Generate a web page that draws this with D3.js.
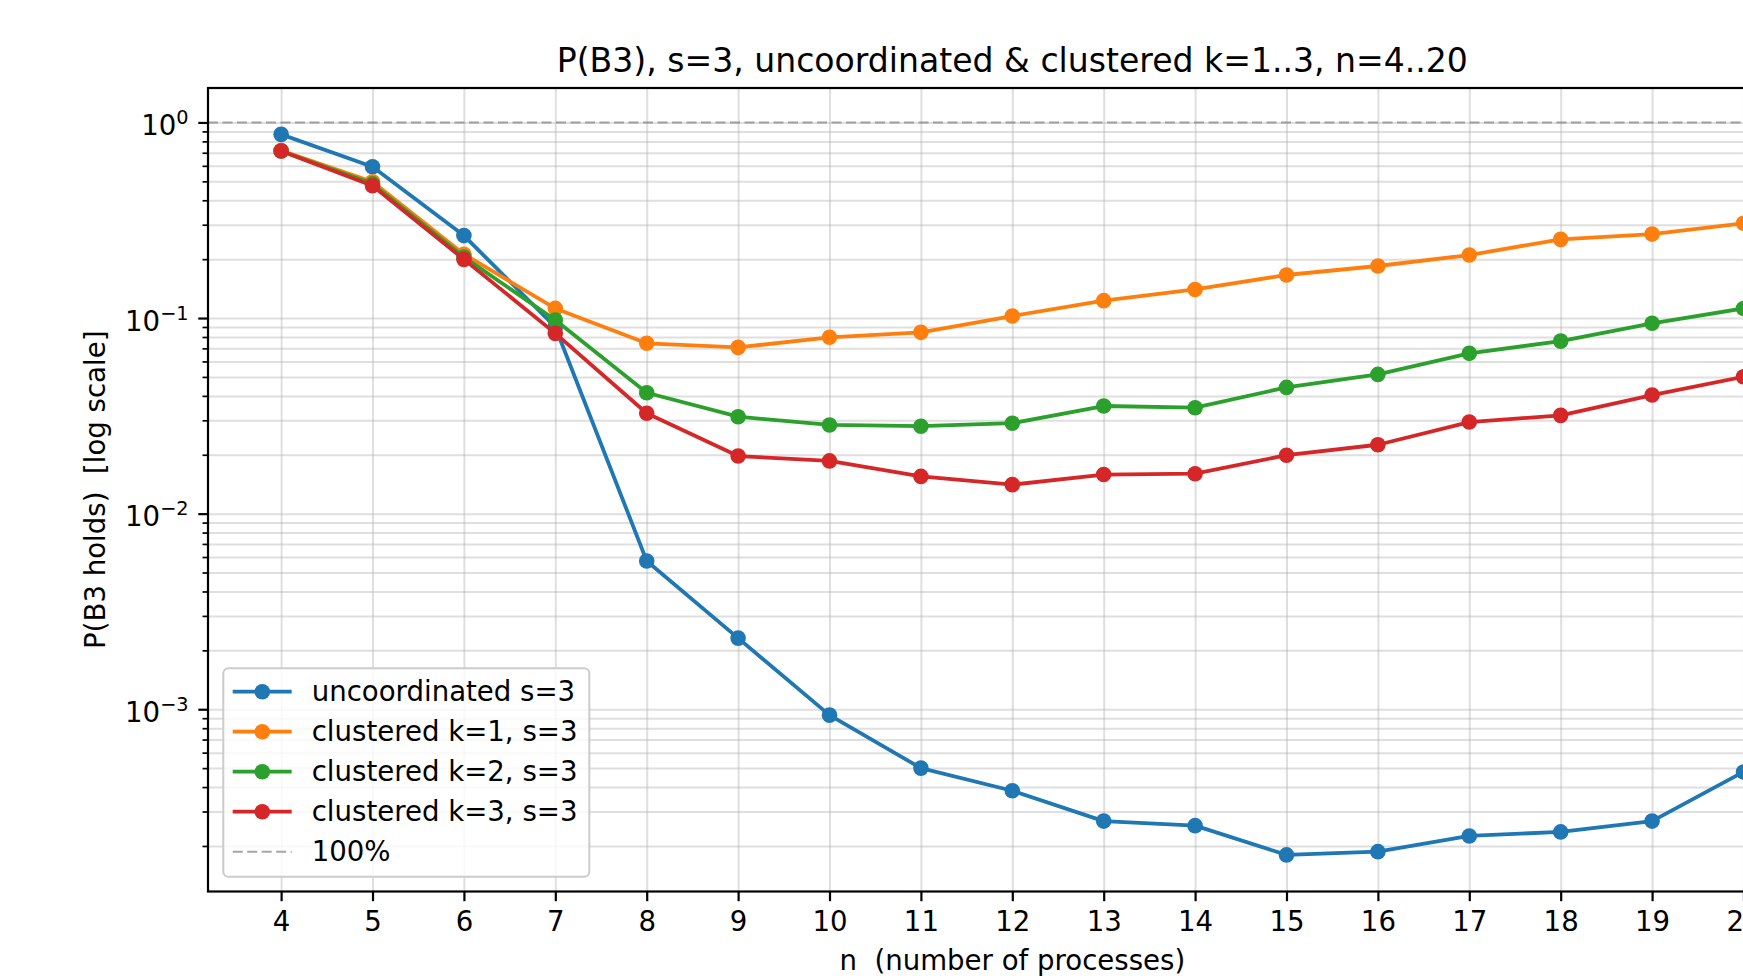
<!DOCTYPE html>
<html>
<head>
<meta charset="utf-8">
<script src="https://cdn.jsdelivr.net/npm/d3@7"></script>
<style>
  html, body { margin: 0; padding: 0; background: #fff; overflow: hidden; }
  svg { display: block; font-family: "DejaVu Sans", sans-serif; }
  svg text { white-space: pre; }
</style>
</head>
<body>
<script>
// Data
var nValues = [4, 5, 6, 7, 8, 9, 10, 11, 12, 13, 14, 15, 16, 17, 18, 19, 20];

var uncoordinated = [0.869, 0.594, 0.264, 0.090, 0.00573, 0.00231, 0.000933, 0.000500, 0.000383,
                     0.000268, 0.000254, 0.000180, 0.000187, 0.000225, 0.000236, 0.000268, 0.000478];
var clusteredK1 = [0.718, 0.497, 0.212, 0.112, 0.0743, 0.0708, 0.0797, 0.0845, 0.1024,
                   0.1227, 0.140, 0.166, 0.1845, 0.210, 0.2525, 0.2687, 0.305];
var clusteredK2 = [0.715, 0.485, 0.205, 0.0977, 0.0415, 0.0313, 0.0284, 0.0280, 0.0290,
                   0.0355, 0.0348, 0.0442, 0.0515, 0.0660, 0.0762, 0.094, 0.112];
var clusteredK3 = [0.714, 0.475, 0.1995, 0.0835, 0.0326, 0.0197, 0.0186, 0.0155, 0.01407,
                   0.01584, 0.0160, 0.0199, 0.0225, 0.0294, 0.0318, 0.0404, 0.0501];

var seriesNames = ["uncoordinated s=3", "clustered k=1, s=3", "clustered k=2, s=3", "clustered k=3, s=3"];
var seriesColors = ["#1f77b4", "#ff7f0e", "#2ca02c", "#d62728"];
var refLabel = "100%";
var refValue = 1;

var majorTicks = [1, 0.1, 0.01, 0.001];
var majorExponents = ["0", "\u22121", "\u22122", "\u22123"];

var titleText = "P(B3), s=3, uncoordinated & clustered k=1..3, n=4..20";
var xLabelText = "n  (number of processes)";
var yLabelText = "P(B3 holds)  [log scale]";

// Layout
var W = 1743, H = 976;
var plot = {left: 208, top: 88, right: 1816.6, bottom: 891.5};
var fs = 27.6;

var svg = d3.select("body").append("svg")
    .attr("width", W)
    .attr("height", H);

// Scales
var x = d3.scaleLinear().domain([3.2, 20.8]).range([plot.left, plot.right]);
var y = d3.scaleLog().domain([1.17e-4, 1.5]).range([plot.bottom, plot.top]);

// minor tick values 2..9 x 10^k inside the domain
var minorTicks = [];
[-4, -3, -2, -1, 0].forEach(function(e) {
  for (var m = 2; m <= 9; m++) {
    var v = m * Math.pow(10, e);
    if (v >= y.domain()[0] && v <= y.domain()[1]) minorTicks.push(v);
  }
});

var plotW = plot.right - plot.left, plotH = plot.bottom - plot.top;

svg.append("defs").append("clipPath").attr("id", "clip")
  .append("rect").attr("x", plot.left).attr("y", plot.top).attr("width", plotW).attr("height", plotH);

// Grid
var grid = svg.append("g").attr("class", "grid");
grid.append("g")
    .attr("transform", "translate(0," + plot.bottom + ")")
    .call(d3.axisBottom(x).tickValues(nValues).tickSize(-plotH).tickFormat(""));
grid.append("g")
    .attr("transform", "translate(" + plot.left + ",0)")
    .call(d3.axisLeft(y).tickValues(majorTicks.concat(minorTicks)).tickSize(-plotW).tickFormat(""));
grid.selectAll(".domain").remove();
grid.selectAll("line")
    .attr("stroke", "#b0b0b0")
    .attr("stroke-opacity", 0.4)
    .attr("stroke-width", 2);

var chart = svg.append("g").attr("clip-path", "url(#clip)");

// 100% reference line
chart.append("line")
    .attr("x1", plot.left).attr("x2", plot.right)
    .attr("y1", y(refValue)).attr("y2", y(refValue))
    .attr("stroke", "#808080")
    .attr("stroke-opacity", 0.7)
    .attr("stroke-width", 2)
    .attr("stroke-dasharray", "10,4.5");

var allSeries = [uncoordinated, clusteredK1, clusteredK2, clusteredK3];

var line = d3.line()
    .x(function(d, i) { return x(nValues[i]); })
    .y(function(d) { return y(d); });

allSeries.forEach(function(vals, s) {
  var g = chart.append("g");
  g.append("path")
      .datum(vals)
      .attr("d", line)
      .attr("fill", "none")
      .attr("stroke", seriesColors[s])
      .attr("stroke-width", 3.8)
      .attr("stroke-linejoin", "round");
  g.selectAll("circle")
      .data(vals)
      .enter().append("circle")
        .attr("cx", function(d, i) { return x(nValues[i]); })
        .attr("cy", function(d) { return y(d); })
        .attr("r", 7.8)
        .attr("fill", seriesColors[s]);
});

// Axes
var xAxis = svg.append("g")
    .attr("transform", "translate(0," + plot.bottom + ")")
    .call(d3.axisBottom(x).tickValues(nValues).tickSize(9.7).tickPadding(10.5).tickSizeOuter(0));
xAxis.select(".domain").remove();
xAxis.selectAll("line").attr("stroke", "#000").attr("stroke-width", 2.2);
xAxis.selectAll("text")
    .attr("font-size", fs)
    .attr("font-family", "DejaVu Sans")
    .attr("fill", "#000");

var yMinor = svg.append("g")
    .attr("transform", "translate(" + plot.left + ",0)")
    .call(d3.axisLeft(y).tickValues(minorTicks).tickSize(5.5).tickFormat(""));
yMinor.select(".domain").remove();
yMinor.selectAll("line").attr("stroke", "#000").attr("stroke-width", 1.7);

var yAxis = svg.append("g")
    .attr("transform", "translate(" + plot.left + ",0)")
    .call(d3.axisLeft(y).tickValues(majorTicks).tickSize(9.7).tickPadding(9.7).tickSizeOuter(0));
yAxis.select(".domain").remove();
yAxis.selectAll("line").attr("stroke", "#000").attr("stroke-width", 2.2);
yAxis.selectAll("text")
    .attr("font-size", fs)
    .attr("font-family", "DejaVu Sans")
    .attr("fill", "#000")
    .attr("dy", null)
    .attr("y", 12)
    .each(function(d, i) {
      var t = d3.select(this).text(null);
      t.append("tspan").text("10");
      t.append("tspan").attr("font-size", fs * 0.7).attr("dy", -11).text(majorExponents[i]);
    });

// Spines
var spines = svg.append("g").attr("stroke", "#000").attr("stroke-width", 2.2).attr("fill", "none");
spines.append("rect")
    .attr("x", plot.left).attr("y", plot.top)
    .attr("width", plotW).attr("height", plotH);

// Title and axis labels
svg.append("text")
    .attr("x", (plot.left + plot.right) / 2)
    .attr("y", 72)
    .attr("text-anchor", "middle")
    .attr("font-size", 33.1)
    .attr("fill", "#000")
    .text(titleText);

svg.append("text")
    .attr("x", (plot.left + plot.right) / 2)
    .attr("y", 970)
    .attr("text-anchor", "middle")
    .attr("font-size", fs)
    .attr("fill", "#000")
    .text(xLabelText);

svg.append("text")
    .attr("transform", "translate(105," + ((plot.top + plot.bottom) / 2) + ") rotate(-90)")
    .attr("text-anchor", "middle")
    .attr("font-size", fs)
    .attr("fill", "#000")
    .text(yLabelText);

// Legend
var legend = svg.append("g").attr("class", "legend");
legend.append("rect")
    .attr("x", 223.3).attr("y", 668.3)
    .attr("width", 366).attr("height", 208.4)
    .attr("rx", 5)
    .attr("fill", "#fff").attr("fill-opacity", 0.8)
    .attr("stroke", "#cccccc").attr("stroke-width", 2);

var rowY = d3.scaleLinear().domain([0, 4]).range([691.7, 851.7]);
var legendItems = seriesNames.map(function(name, i) { return {name: name, color: seriesColors[i], dashed: false}; });
legendItems.push({name: refLabel, color: "#808080", dashed: true});

var rows = legend.selectAll(".row")
    .data(legendItems)
    .enter().append("g")
      .attr("class", "row")
      .attr("transform", function(d, i) { return "translate(0," + rowY(i) + ")"; });

rows.append("line")
    .attr("x1", 232.7).attr("x2", 291.7)
    .attr("stroke", function(d) { return d.color; })
    .attr("stroke-opacity", function(d) { return d.dashed ? 0.7 : 1; })
    .attr("stroke-width", function(d) { return d.dashed ? 2 : 3.8; })
    .attr("stroke-dasharray", function(d) { return d.dashed ? "10,4.5" : null; });

rows.filter(function(d) { return !d.dashed; })
  .append("circle")
    .attr("cx", 262.3)
    .attr("r", 7.8)
    .attr("fill", function(d) { return d.color; });

rows.append("text")
    .attr("x", 311.7)
    .attr("y", 9)
    .attr("font-size", fs)
    .attr("fill", "#000")
    .text(function(d) { return d.name; });
</script>
</body>
</html>
